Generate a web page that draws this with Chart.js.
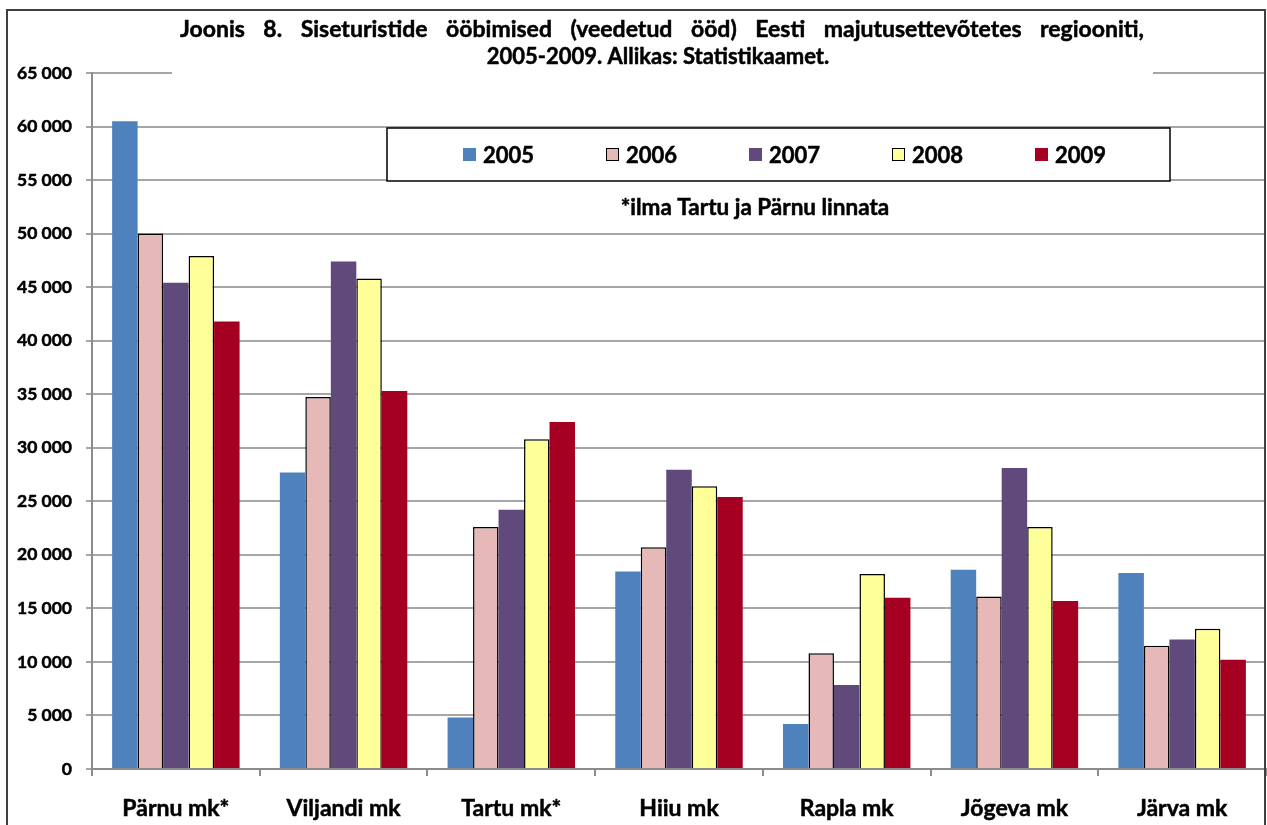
<!DOCTYPE html>
<html>
<head>
<meta charset="utf-8">
<script src="https://cdn.jsdelivr.net/npm/chart.js@4.4.0/dist/chart.umd.min.js"></script>
<style>
  html, body { margin: 0; padding: 0; background: #fff; }
  #wrap { width: 1267px; height: 825px; }
</style>
</head>
<body>
<div id="wrap"><canvas id="myChart" width="1267" height="825"></canvas></div>
<script>
var categories = ['Pärnu mk*', 'Viljandi mk', 'Tartu mk*', 'Hiiu mk', 'Rapla mk', 'Jõgeva mk', 'Järva mk'];
var years = ['2005', '2006', '2007', '2008', '2009'];
var values2005 = [60500, 27700, 4800, 18450, 4200, 18600, 18300];
var values2006 = [50000, 34750, 22600, 20700, 10800, 16100, 11500];
var values2007 = [45400, 47400, 24200, 27950, 7850, 28100, 12100];
var values2008 = [47900, 45800, 30800, 26400, 18200, 22600, 13100];
var values2009 = [41800, 35300, 32400, 25400, 16000, 15700, 10200];
var yTicks = [0, 5000, 10000, 15000, 20000, 25000, 30000, 35000, 40000, 45000, 50000, 55000, 60000, 65000];
var titleLines = ['Joonis 8. Siseturistide ööbimised (veedetud ööd) Eesti majutusettevõtetes regiooniti,',
                  '2005-2009. Allikas: Statistikaamet.'];
var noteText = '*ilma Tartu ja Pärnu linnata';

var colors = ['#4F81BD', '#E6B9B8', '#604A7B', '#FFFF99', '#A50021'];
var outlined = [false, true, false, true, false];
var FONT = 'Lato, "Open Sans", sans-serif';
var STROKE = 0.5; // thickens Lato bold a little towards the original look

function fmt(v) {
  // 65000 -> "65 000"
  return String(v).replace(/\B(?=(\d{3})+(?!\d))/g, ' ');
}

function boldText(ctx, text, x, y) {
  ctx.strokeText(text, x, y);
  ctx.fillText(text, x, y);
}

function drawJustified(ctx, text, x1, x2, y) {
  var words = text.split(' '), total = 0;
  words.forEach(function(w) { total += ctx.measureText(w).width; });
  var gap = Math.max((x2 - x1 - total) / (words.length - 1), ctx.measureText(' ').width);
  var x = x1;
  words.forEach(function(w) {
    boldText(ctx, w, x, y);
    x += ctx.measureText(w).width + gap;
  });
}

var decorPlugin = {
  id: 'decor',
  afterDraw: function(chart) {
    var ctx = chart.ctx;
    ctx.save();

    // title block (hides the top gridline)
    ctx.fillStyle = '#fff';
    ctx.fillRect(172, 14, 981, 70);
    ctx.fillStyle = '#000';
    ctx.strokeStyle = '#000';
    ctx.lineWidth = STROKE;
    ctx.font = 'bold 23px ' + FONT;
    ctx.textBaseline = 'alphabetic';
    ctx.textAlign = 'left';
    drawJustified(ctx, titleLines[0], 180, 1144, 37);
    ctx.textAlign = 'center';
    ctx.font = 'bold 22px ' + FONT;
    boldText(ctx, titleLines[1], 658, 64);

    // legend box
    ctx.fillStyle = '#fff';
    ctx.fillRect(387, 128, 783, 53);
    ctx.lineWidth = 1.5;
    ctx.strokeRect(387, 128, 783, 53);
    ctx.font = 'bold 22px ' + FONT;
    ctx.textAlign = 'left';
    ctx.textBaseline = 'middle';
    chart.data.datasets.forEach(function(ds, i) {
      var x = 463 + i * 143;
      ctx.fillStyle = ds.backgroundColor;
      ctx.fillRect(x, 148, 13, 13);
      if (ds.borderWidth) {
        ctx.lineWidth = 1;
        ctx.strokeRect(x + 0.5, 148.5, 12, 12);
      }
      ctx.fillStyle = '#000';
      ctx.lineWidth = STROKE;
      boldText(ctx, ds.label, x + 20, 156);
    });

    // note
    ctx.font = 'bold 22.5px ' + FONT;
    ctx.textAlign = 'center';
    boldText(ctx, noteText, 755, 208);

    // outer frame
    ctx.strokeStyle = '#404040';
    ctx.lineWidth = 2;
    ctx.strokeRect(7, 10, 1258, 840);
    ctx.restore();
  }
};

var seriesValues = [values2005, values2006, values2007, values2008, values2009];
var datasets = years.map(function(y, i) {
  return {
    label: y,
    data: seriesValues[i],
    backgroundColor: colors[i],
    borderColor: '#000',
    borderWidth: outlined[i] ? 1.5 : 0,
    categoryPercentage: 0.76,
    barPercentage: 1
  };
});

var ctx = document.getElementById('myChart').getContext('2d');
var chart = new Chart(ctx, {
  type: 'bar',
  data: { labels: categories, datasets: datasets },
  options: {
    responsive: false,
    animation: false,
    devicePixelRatio: 1,
    layout: { padding: { top: 73, right: 1, left: 0, bottom: 0 } },
    plugins: {
      legend: { display: false },
      title: { display: false },
      tooltip: { enabled: false }
    },
    scales: {
      x: {
        afterFit: function(scale) { scale.height = 56; },
        grid: { drawOnChartArea: false, drawTicks: true, tickLength: 7, color: '#8c8c8c', lineWidth: 2 },
        border: { color: '#8c8c8c', width: 2 },
        ticks: {
          color: '#000',
          padding: 19,
          textStrokeColor: '#000',
          textStrokeWidth: STROKE,
          font: { family: FONT, size: 23, weight: 'bold' }
        }
      },
      y: {
        min: 0,
        max: 65000,
        afterFit: function(scale) { scale.width = 92; },
        afterBuildTicks: function(scale) {
          scale.ticks = yTicks.map(function(v) { return { value: v }; });
        },
        grid: { color: '#a6a6a6', lineWidth: 2, tickLength: 6 },
        border: { color: '#8c8c8c', width: 2 },
        ticks: {
          color: '#000',
          padding: 14,
          textStrokeColor: '#000',
          textStrokeWidth: STROKE,
          font: { family: FONT, size: 17.5, weight: 'bold' },
          callback: function(v) { return fmt(v); }
        }
      }
    }
  },
  plugins: [decorPlugin]
});
</script>
</body>
</html>
